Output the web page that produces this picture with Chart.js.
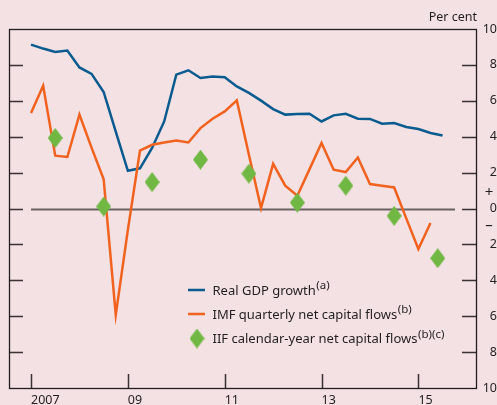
<!DOCTYPE html>
<html>
<head>
<meta charset="utf-8">
<script src="https://cdn.jsdelivr.net/npm/chart.js@4/dist/chart.umd.min.js"></script>
<style>
  html, body { margin: 0; padding: 0; background: #f3e1e3; }
  canvas { display: block; }
</style>
</head>
<body>
<canvas id="chart" width="497" height="405"></canvas>
<script>
// quarterly categories
var quarters = [
    '2007 Q1', '2007 Q2', '2007 Q3', '2007 Q4',
    '2008 Q1', '2008 Q2', '2008 Q3', '2008 Q4',
    '2009 Q1', '2009 Q2', '2009 Q3', '2009 Q4',
    '2010 Q1', '2010 Q2', '2010 Q3', '2010 Q4',
    '2011 Q1', '2011 Q2', '2011 Q3', '2011 Q4',
    '2012 Q1', '2012 Q2', '2012 Q3', '2012 Q4',
    '2013 Q1', '2013 Q2', '2013 Q3', '2013 Q4',
    '2014 Q1', '2014 Q2', '2014 Q3', '2014 Q4',
    '2015 Q1', '2015 Q2', '2015 Q3'
];

var gdpGrowth = [9.13, 8.91, 8.72, 8.80, 7.86, 7.50, 6.49, 4.28, 2.10, 2.24, 3.37, 4.85,
    7.46, 7.70, 7.27, 7.35, 7.31, 6.80, 6.44, 6.01, 5.54, 5.23, 5.26, 5.28,
    4.85, 5.19, 5.28, 5.00, 4.99, 4.72, 4.76, 4.54, 4.43, 4.21, 4.07];

var imfFlows = [5.32, 6.84, 2.94, 2.87, 5.23, 3.39, 1.63, -5.93, -1.19, 3.23, 3.55, 3.68,
    3.79, 3.68, 4.48, 5.00, 5.41, 6.02, 3.00, 0.02, 2.49, 1.27, 0.71, 2.18,
    3.65, 2.16, 2.03, 2.84, 1.36, 1.27, 1.17, -0.55, -2.26, -0.81];

var iifYears = [2007.5, 2008.5, 2009.5, 2010.5, 2011.5, 2012.5, 2013.5, 2014.5, 2015.4];
var iifFlows = [3.93, 0.11, 1.47, 2.72, 1.94, 0.33, 1.27, -0.41, -2.77];

var xTickValues = [2007, 2009, 2011, 2013, 2015];
var xTickLabels = ['2007', '09', '11', '13', '15'];
var yTickValues = [-10, -8, -6, -4, -2, 0, 2, 4, 6, 8, 10];

var legendNames = ['Real GDP growth', 'IMF quarterly net capital flows', 'IIF calendar-year net capital flows'];
var legendNotes = ['(a)', '(b)', '(b)(c)'];

var BLUE = '#0a5b8f';
var ORANGE = '#f2621f';
var GREEN = '#70b843';
var INK = '#231f20';
var BG = '#f3e1e3';
var FONT = '"Noto Sans", sans-serif';

function quarterToX(q) {
    var p = q.split(' Q');
    return Number(p[0]) + (Number(p[1]) - 1) / 4;
}

function series(values) {
    var out = [];
    for (let i = 0; i < values.length; i++) {
        out.push({x: quarterToX(quarters[i]), y: values[i]});
    }
    return out;
}

// tall diamond marker
var diamond = document.createElement('canvas');
diamond.width = 15;
diamond.height = 20;
(function() {
    var c = diamond.getContext('2d');
    c.fillStyle = GREEN;
    c.beginPath();
    c.moveTo(7.5, 0);
    c.lineTo(15, 10);
    c.lineTo(7.5, 20);
    c.lineTo(0, 10);
    c.closePath();
    c.fill();
})();

var frame = {
    id: 'frame',
    beforeDraw: function(chart) {
        var ctx = chart.ctx;
        ctx.save();
        ctx.fillStyle = BG;
        ctx.fillRect(0, 0, chart.width, chart.height);
        ctx.restore();
    },
    beforeDatasetsDraw: function(chart) {
        var ctx = chart.ctx;
        var a = chart.chartArea;
        var xs = chart.scales.x, ys = chart.scales.y;
        ctx.save();

        // zero line
        var y0 = Math.round(ys.getPixelForValue(0)) + 0.5;
        ctx.strokeStyle = '#6a6263';
        ctx.lineWidth = 1.8;
        ctx.beginPath();
        ctx.moveTo(xs.getPixelForValue(2007), y0);
        ctx.lineTo(a.right - 21, y0);
        ctx.stroke();

        // inward ticks
        ctx.strokeStyle = '#3a3334';
        ctx.lineWidth = 1.5;
        ctx.beginPath();
        yTickValues.forEach(function(v) {
            if (v === 10 || v === -10) return;
            var y = Math.round(ys.getPixelForValue(v)) + 0.5;
            ctx.moveTo(a.left, y);
            ctx.lineTo(a.left + 14, y);
            ctx.moveTo(a.right - 14, y);
            ctx.lineTo(a.right, y);
        });
        xTickValues.forEach(function(v) {
            var x = Math.round(xs.getPixelForValue(v)) + 0.5;
            ctx.moveTo(x, a.bottom);
            ctx.lineTo(x, a.bottom - 14);
        });
        ctx.stroke();

        // frame
        ctx.strokeStyle = INK;
        ctx.lineWidth = 1.3;
        ctx.strokeRect(a.left + 0.5, a.top + 0.5, a.right - a.left, a.bottom - a.top);
        ctx.restore();
    },
    afterDraw: function(chart) {
        var ctx = chart.ctx;
        var a = chart.chartArea;
        var ys = chart.scales.y;
        ctx.save();
        ctx.fillStyle = INK;
        ctx.textBaseline = 'middle';

        ctx.font = '12.5px ' + FONT;
        ctx.textAlign = 'right';
        ctx.fillText('Per cent', a.right + 1, 17);

        ctx.textAlign = 'center';
        ctx.font = '15px ' + FONT;
        ctx.fillText('+', 489, ys.getPixelForValue(0) - 16);
        ctx.fillText('\u2013', 489, ys.getPixelForValue(0) + 17);

        // legend
        var rows = [290, 314, 338.5];
        var tx = 212.5;
        for (let i = 0; i < 3; i++) {
            var y = rows[i];
            if (i < 2) {
                ctx.strokeStyle = i === 0 ? BLUE : ORANGE;
                ctx.lineWidth = 2.5;
                ctx.beginPath();
                ctx.moveTo(188, y);
                ctx.lineTo(205, y);
                ctx.stroke();
            } else {
                ctx.drawImage(diamond, 197 - 7.5, y - 10);
            }
            ctx.textAlign = 'left';
            ctx.font = '13px ' + FONT;
            ctx.fillText(legendNames[i], tx, y + 1);
            var w = ctx.measureText(legendNames[i]).width;
            ctx.font = '11.5px ' + FONT;
            ctx.fillText(legendNotes[i], tx + w + 0.5, y - 4);
        }
        ctx.restore();
    }
};

var config = {
    type: 'line',
    data: {
        datasets: [{
            label: legendNames[0],
            data: series(gdpGrowth),
            borderColor: BLUE,
            borderWidth: 2.5,
            pointRadius: 0,
            tension: 0,
            order: 2
        }, {
            label: legendNames[1],
            data: series(imfFlows),
            borderColor: ORANGE,
            borderWidth: 2.5,
            pointRadius: 0,
            tension: 0,
            order: 1
        }, {
            label: legendNames[2],
            data: iifYears.map(function(x, i) { return {x: x, y: iifFlows[i]}; }),
            showLine: false,
            pointStyle: diamond,
            pointRadius: 8,
            pointBackgroundColor: GREEN,
            order: 0
        }]
    },
    options: {
        responsive: false,
        animation: false,
        devicePixelRatio: 1,
        layout: {
            padding: {left: 9, top: 29, right: 0, bottom: 0}
        },
        plugins: {
            legend: {display: false},
            tooltip: {enabled: false}
        },
        scales: {
            x: {
                type: 'linear',
                min: 2006.545,
                max: 2016.19,
                grid: {display: false, drawTicks: false},
                border: {display: false},
                afterBuildTicks: function(scale) {
                    scale.ticks = xTickValues.map(function(v) { return {value: v}; });
                },
                afterFit: function(scale) { scale.height = 17; },
                ticks: {
                    align: 'start',
                    padding: 5,
                    color: INK,
                    font: {family: FONT, size: 12.5},
                    maxRotation: 0,
                    callback: function(v) {
                        var k = xTickValues.indexOf(v);
                        return k >= 0 ? xTickLabels[k] : '';
                    }
                }
            },
            y: {
                position: 'right',
                min: -10,
                max: 10,
                grid: {display: false, drawTicks: false},
                border: {display: false},
                afterBuildTicks: function(scale) {
                    scale.ticks = yTickValues.map(function(v) { return {value: v}; });
                },
                afterFit: function(scale) { scale.width = 21; },
                ticks: {
                    crossAlign: 'far',
                    padding: 8,
                    color: INK,
                    font: {family: FONT, size: 12.5},
                    callback: function(v) { return String(Math.abs(v)); }
                }
            }
        }
    },
    plugins: [frame]
};

new Chart(document.getElementById('chart'), config);
</script>
</body>
</html>
